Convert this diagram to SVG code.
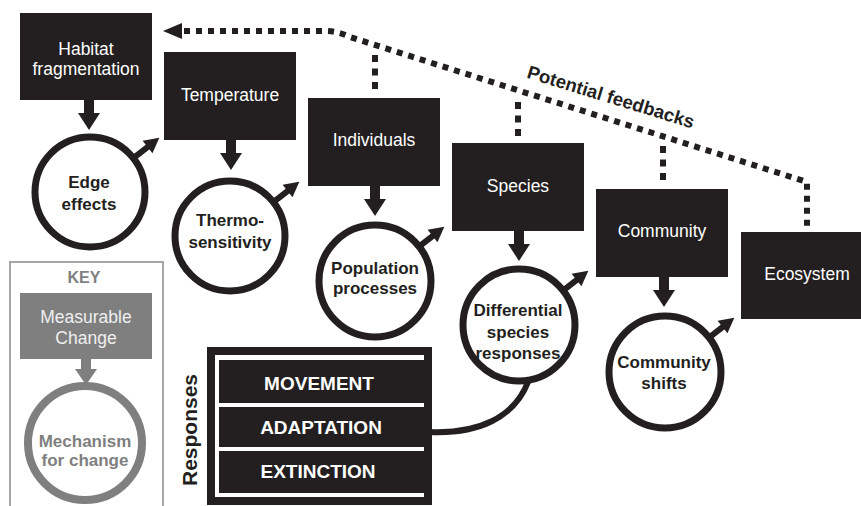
<svg xmlns="http://www.w3.org/2000/svg" width="861" height="506" viewBox="0 0 861 506">
<style>
.box{fill:#231f20}
.btxt{font-family:"Liberation Sans",Arial,sans-serif;font-size:17.5px;fill:#fff;text-anchor:middle}
.ring{fill:#fff;stroke:#231f20;stroke-width:7}
.ctxt{font-family:"Liberation Sans",Arial,sans-serif;font-size:17px;font-weight:bold;fill:#231f20;text-anchor:middle}
.dot{fill:none;stroke:#231f20;stroke-width:6}
.stem{stroke:#231f20;stroke-width:6}
.ar{fill:#231f20}
.rtxt{font-family:"Liberation Sans",Arial,sans-serif;font-size:19px;font-weight:bold;fill:#fff;text-anchor:middle}
.gray{fill:#7f7f7f}
.gtxt{font-family:"Liberation Sans",Arial,sans-serif;font-size:17px;font-weight:bold;fill:#7f7f7f;text-anchor:middle}
</style>
<defs>
<g id="down"><rect x="-5" y="0" width="10" height="15" class="ar"/><polygon points="-11,13 11,13 0,30" class="ar"/></g>
<g id="diag"><line x1="55" y1="0" x2="75" y2="0" class="stem"/><polygon points="88,0 73,-8 73,8" class="ar"/></g>
</defs>
<rect width="861" height="506" fill="#fff"/>

<g id="connectors">
<path class="dot" d="M184 31 L325 31 Q338 31 350 37 L807 182 L807 226" stroke-dasharray="6 6"/>
<polygon points="163,31 182,23 182,39" class="ar"/>
<path class="dot" d="M375 55 V90 M518 102 V137 M663 146 V182" stroke-dasharray="7 6.5"/>
<use href="#down" x="89" y="100"/>
<use href="#down" x="231" y="140"/>
<use href="#down" x="375" y="186"/>
<use href="#down" x="519" y="231"/>
<use href="#down" x="664" y="277"/>
<use href="#diag" transform="translate(90,192) rotate(-38)"/>
<use href="#diag" transform="translate(230,236) rotate(-38)"/>
<use href="#diag" transform="translate(375,281) rotate(-38)"/>
<use href="#diag" transform="translate(519,325) rotate(-38)"/>
<use href="#diag" transform="translate(665,372) rotate(-38)"/>
<path d="M430 432 C478 434 514 418 528 382" fill="none" stroke="#231f20" stroke-width="6"/>
<text transform="translate(609,103) rotate(17)" font-family="Liberation Sans,Arial,sans-serif" font-size="18.5" font-weight="bold" fill="#231f20" text-anchor="middle">Potential feedbacks</text>
</g>

<g id="habitat"><rect class="box" x="20" y="13" width="132" height="87"/><text class="btxt" x="86" y="55">Habitat</text><text class="btxt" x="86" y="75">fragmentation</text></g>
<g id="temperature"><rect class="box" x="164" y="52" width="132" height="88"/><text class="btxt" x="230" y="101">Temperature</text></g>
<g id="individuals"><rect class="box" x="308" y="98" width="132" height="88"/><text class="btxt" x="374" y="146">Individuals</text></g>
<g id="species"><rect class="box" x="452" y="143" width="132" height="88"/><text class="btxt" x="518" y="192">Species</text></g>
<g id="community"><rect class="box" x="596" y="189" width="132" height="88"/><text class="btxt" x="662" y="237">Community</text></g>
<g id="ecosystem"><rect class="box" x="741" y="232" width="125" height="87"/><text class="btxt" x="807" y="280">Ecosystem</text></g>

<g id="edge"><circle class="ring" cx="90" cy="192" r="55"/><text class="ctxt" x="89" y="188">Edge</text><text class="ctxt" x="89" y="210">effects</text></g>
<g id="thermo"><circle class="ring" cx="230" cy="236" r="55"/><text class="ctxt" x="230" y="226">Thermo-</text><text class="ctxt" x="230" y="248">sensitivity</text></g>
<g id="population"><circle class="ring" cx="375" cy="281" r="56"/><text class="ctxt" x="375" y="274">Population</text><text class="ctxt" x="375" y="294">processes</text></g>
<g id="differential"><circle class="ring" cx="519" cy="325" r="56"/><text class="ctxt" x="518" y="316">Differential</text><text class="ctxt" x="518" y="338">species</text><text class="ctxt" x="518" y="359">responses</text></g>
<g id="shifts"><circle class="ring" cx="665" cy="372" r="56"/><text class="ctxt" x="664" y="368">Community</text><text class="ctxt" x="664" y="389">shifts</text></g>

<g id="responses">
<rect x="211" y="351" width="217" height="150" fill="#fff" stroke="#231f20" stroke-width="8"/>
<rect class="box" x="219" y="360" width="205" height="43"/>
<rect class="box" x="219" y="407" width="205" height="40"/>
<rect class="box" x="219" y="451" width="205" height="42"/>
<text class="rtxt" x="319" y="390">MOVEMENT</text>
<text class="rtxt" x="321" y="434">ADAPTATION</text>
<text class="rtxt" x="318" y="478">EXTINCTION</text>
<text transform="translate(197,430) rotate(-90)" font-family="Liberation Sans,Arial,sans-serif" font-size="21" font-weight="bold" fill="#231f20" text-anchor="middle">Responses</text>
</g>

<g id="key">
<rect x="10" y="262" width="153" height="260" fill="none" stroke="#a6a6a6" stroke-width="2"/>
<text x="84" y="283" font-family="Liberation Sans,Arial,sans-serif" font-size="16" font-weight="bold" fill="#7f7f7f" text-anchor="middle">KEY</text>
<rect class="gray" x="20" y="293" width="132" height="66"/>
<text class="btxt" x="86" y="323" style="fill:#efefef">Measurable</text>
<text class="btxt" x="86" y="344" style="fill:#efefef">Change</text>
<circle cx="85" cy="443" r="57" fill="#fff" stroke="#7f7f7f" stroke-width="8"/>
<rect class="gray" x="81" y="359" width="10" height="12"/>
<polygon class="gray" points="75,369 97,369 86,385"/>
<text class="gtxt" x="85" y="447">Mechanism</text>
<text class="gtxt" x="85" y="466">for change</text>
</g>
</svg>
